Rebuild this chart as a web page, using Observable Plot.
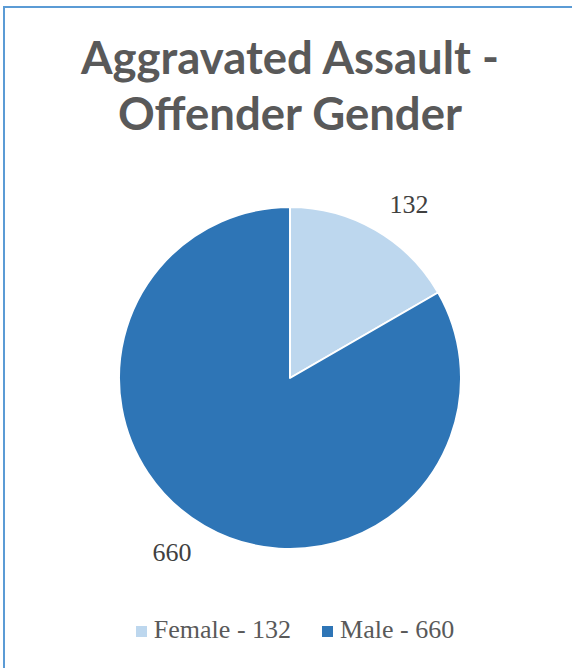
<!DOCTYPE html>
<html>
<head>
<meta charset="utf-8">
<script src="https://cdn.jsdelivr.net/npm/d3@7"></script>
<script src="https://cdn.jsdelivr.net/npm/@observablehq/plot@0.6"></script>
<style>
  html, body { margin: 0; padding: 0; background: #ffffff; }
  #page { position: relative; width: 572px; height: 668px; overflow: hidden; }
  #frame { position: absolute; left: 3px; top: 6px; width: 640px; height: 720px;
           border-left: 2px solid #5b9bd5; border-top: 2px solid #5b9bd5; box-sizing: border-box; }
  #title { position: absolute; left: 0; width: 580px; top: 30px; text-align: center;
           font-family: Lato, "Open Sans", sans-serif; font-weight: bold; font-size: 44px;
           line-height: 56px; color: #595959; white-space: nowrap; }
  #chart { position: absolute; left: 0; top: 150px; }
  #legend { position: absolute; left: 0; width: 590px; top: 615px; display: flex;
            justify-content: center; align-items: center;
            font-family: "Liberation Serif", "Times New Roman", serif; font-size: 26px;
            line-height: 30px; color: #595959; }
  .item { display: flex; align-items: center; }
  .sw { width: 11px; height: 11px; margin-right: 7px; margin-top: 2px; }
  .item + .item { margin-left: 31px; }
</style>
</head>
<body>
<div id="page">
  <div id="frame"></div>
  <div id="title"></div>
  <div id="chart"></div>
  <div id="legend"></div>
</div>
<script>
const titleLines = ["Aggravated Assault -", "Offender Gender"];
const categories = ["Female", "Male"];
const values = [132, 660];

const data = categories.map((c, i) => ({category: c, value: values[i]}));
const colorOpts = {domain: categories, range: ["#bdd7ee", "#2e75b6"]};
const fallbackColor = d3.scaleOrdinal(colorOpts.domain, colorOpts.range);

const arcs = d3.pie().value(d => d.value).sort(null)(data);
const labelR = 1.23, labelShift = 0.075;
const labels = arcs.map(a => {
  const m = (a.startAngle + a.endAngle) / 2 + labelShift;
  return {x: labelR * Math.sin(m), y: labelR * Math.cos(m), text: String(a.data.value)};
});

// title
const titleEl = document.getElementById("title");
const ctx = document.createElement("canvas").getContext("2d");
ctx.font = "bold 100px Lato";
const fit = 100 * 420 / ctx.measureText(titleLines[0]).width;
titleEl.style.fontSize = fit.toFixed(1) + "px";
titleEl.style.top = (75 - ((56 - 1.2 * fit) / 2 + 0.987 * fit)).toFixed(1) + "px";
titleLines.forEach(t => { const d = document.createElement("div"); d.textContent = t; titleEl.appendChild(d); });

const pieMark = (index, scales) => {
  const cx = scales.x(0), cy = scales.y(0), r = scales.x(1) - scales.x(0);
  const color = scales.color ?? fallbackColor;
  const g = d3.create("svg:g").attr("transform", `translate(${cx},${cy})`);
  const arcGen = d3.arc().innerRadius(0).outerRadius(r);
  g.selectAll("path").data(arcs).join("path")
    .attr("d", arcGen)
    .attr("fill", d => color(d.data.category))
    .attr("stroke", "#ffffff")
    .attr("stroke-width", 2)
    .attr("stroke-linejoin", "round");
  return g.node();
};

const chart = Plot.plot({
  width: 572,
  height: 440,
  marginLeft: 119,
  marginRight: 111,
  marginTop: 57,
  marginBottom: 41,
  x: {domain: [-1, 1], axis: null},
  y: {domain: [-1, 1], axis: null},
  color: colorOpts,
  style: {background: "transparent", overflow: "visible"},
  marks: [
    pieMark,
    Plot.text(labels, {x: "x", y: "y", text: "text", fill: "#404040", fontSize: 26,
      fontFamily: "Liberation Serif", textAnchor: "middle", lineAnchor: "middle"})
  ]
});
document.getElementById("chart").appendChild(chart);

const legend = document.getElementById("legend");
categories.forEach((c, i) => {
  const item = document.createElement("div"); item.className = "item";
  const sw = document.createElement("div"); sw.className = "sw";
  sw.style.background = fallbackColor(c);
  const tx = document.createElement("span"); tx.textContent = `${c} - ${values[i]}`;
  item.appendChild(sw); item.appendChild(tx); legend.appendChild(item);
});
</script>
</body>
</html>
